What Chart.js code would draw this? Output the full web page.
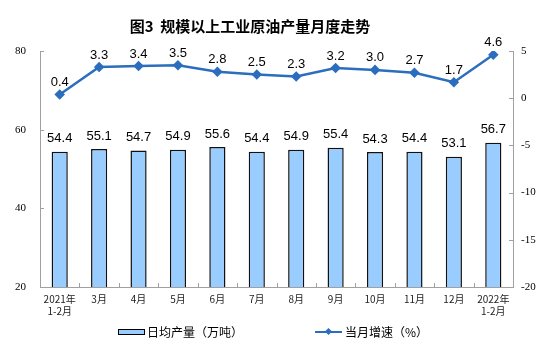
<!DOCTYPE html>
<html>
<head>
<meta charset="utf-8">
<script src="https://cdn.jsdelivr.net/npm/chart.js@4/dist/chart.umd.min.js"></script>
<style>
  body { margin: 0; background: #fff; }
  #wrap { position: relative; width: 554px; height: 362px; }
  #title { position: absolute; left: 0; width: 500px; top: 15px; text-align: center;
    font: bold 15px "Noto Sans CJK SC", sans-serif; color: #000; }
  .leg { position: absolute; top: 321px; font: 12px "Noto Sans CJK SC", sans-serif; color: #000; line-height: 18px; }
  .leg span { display: inline-block; vertical-align: middle; }
</style>
</head>
<body>
<div id="wrap">
  <canvas id="c" width="554" height="362"></canvas>
  <div id="title">图3&nbsp; 规模以上工业原油产量月度走势</div>
  <div class="leg" style="left:118px">
    <span style="width:25px;height:4px;background:#99ccff;border:1px solid #000"></span><span style="margin-left:2px">日均产量（万吨）</span>
  </div>
  <div class="leg" style="left:315px">
    <span style="position:relative;width:27px;height:2px;background:#2a6ebd">
      <span style="position:absolute;left:11px;top:-2px;width:5px;height:5px;background:#2a6ebd;transform:rotate(45deg)"></span>
    </span><span style="margin-left:3px">当月增速（%）</span>
  </div>
</div>
<script>
// 月份
const months = [['2021年', '1-2月'], '3月', '4月', '5月', '6月', '7月', '8月', '9月', '10月', '11月', '12月', ['2022年', '1-2月']];
// 日均产量（万吨）
const dailyOutput = [54.4, 55.1, 54.7, 54.9, 55.6, 54.4, 54.9, 55.4, 54.3, 54.4, 53.1, 56.7];
// 当月增速（%）
const growth = [0.4, 3.3, 3.4, 3.5, 2.8, 2.5, 2.3, 3.2, 3.0, 2.7, 1.7, 4.6];

const axisGray = '#a0a0a0';

// value labels + inward tick marks
const extras = {
  id: 'extras',
  afterDatasetsDraw(chart) {
    const { ctx, chartArea: a, scales } = chart;
    ctx.save();
    ctx.strokeStyle = axisGray;
    ctx.lineWidth = 1;
    ctx.beginPath();
    const n = months.length;
    for (let i = 0; i <= n; i++) {
      const x = Math.round(a.left + i * (a.right - a.left) / n) + 0.5;
      ctx.moveTo(x, a.bottom); ctx.lineTo(x, a.bottom - 4);
    }
    scales.y.ticks.forEach(t => {
      const y = Math.round(scales.y.getPixelForValue(t.value)) + 0.5;
      ctx.moveTo(a.left, y); ctx.lineTo(a.left + 4, y);
    });
    scales.y2.ticks.forEach(t => {
      const y = Math.round(scales.y2.getPixelForValue(t.value)) + 0.5;
      ctx.moveTo(a.right, y); ctx.lineTo(a.right - 4, y);
    });
    ctx.stroke();

    ctx.fillStyle = '#000';
    ctx.font = '13px "Liberation Sans", Arial, sans-serif';
    ctx.textAlign = 'center';
    ctx.textBaseline = 'middle';
    // dataset 0 = line, dataset 1 = bars
    chart.getDatasetMeta(1).data.forEach((el, i) => {
      ctx.fillText(dailyOutput[i].toFixed(1), el.x, el.y - 13);
    });
    chart.getDatasetMeta(0).data.forEach((el, i) => {
      ctx.fillText(growth[i].toFixed(1), el.x, el.y - 12);
    });
    ctx.restore();
  }
};

new Chart(document.getElementById('c'), {
  data: {
    labels: months,
    datasets: [{
      type: 'line',
      label: '当月增速（%）',
      data: growth,
      yAxisID: 'y2',
      borderColor: '#2a6ebd',
      backgroundColor: '#2a6ebd',
      borderWidth: 2.5,
      pointStyle: 'rectRot',
      pointRadius: 3.5,
      tension: 0,
      order: 0
    }, {
      type: 'bar',
      label: '日均产量（万吨）',
      data: dailyOutput,
      yAxisID: 'y',
      backgroundColor: '#99ccff',
      borderColor: '#111',
      borderWidth: 1.5,
      barPercentage: 0.41,
      categoryPercentage: 1,
      order: 1
    }]
  },
  options: {
    responsive: false,
    animation: false,
    layout: { padding: { top: 51, bottom: 35, left: 0, right: 0 } },
    plugins: { legend: { display: false }, tooltip: { enabled: false } },
    scales: {
      x: {
        grid: { display: false, drawTicks: false },
        border: { color: axisGray },
        ticks: { color: '#222', font: { family: '"Noto Sans CJK SC"', size: 10 }, padding: 6, maxRotation: 0, autoSkip: false },
        afterFit(s) { s.height = 40; }
      },
      y: {
        position: 'left',
        min: 20, max: 80,
        grid: { display: false, drawTicks: false },
        border: { color: axisGray },
        ticks: { stepSize: 20, color: '#000', font: { family: '"Liberation Serif"', size: 11 }, padding: 14 },
        afterFit(s) { s.width = 40; }
      },
      y2: {
        position: 'right',
        min: -20, max: 5,
        grid: { display: false, drawTicks: false },
        border: { color: axisGray },
        ticks: { stepSize: 5, color: '#000', font: { family: '"Liberation Serif"', size: 11 }, padding: 8 },
        afterFit(s) { s.width = 41; }
      }
    }
  },
  plugins: [extras]
});
</script>
</body>
</html>
